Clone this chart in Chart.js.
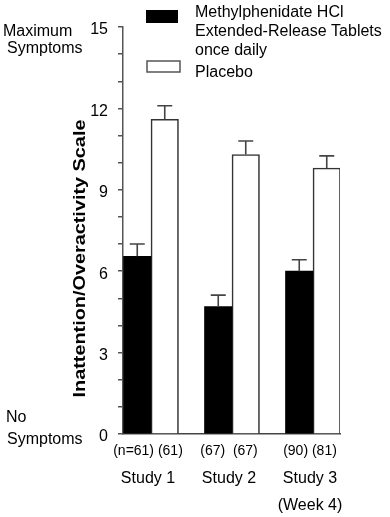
<!DOCTYPE html>
<html>
<head>
<meta charset="utf-8">
<script src="https://cdn.jsdelivr.net/npm/chart.js@4.4.1/dist/chart.umd.min.js"></script>
<style>
  html, body { margin: 0; padding: 0; background: #fff; }
  #wrap { width: 390px; height: 517px; }
</style>
</head>
<body>
<div id="wrap"><canvas id="c" width="390" height="517"></canvas></div>
<script>
// ---- Data ----
const categories = ['Study 1', 'Study 2', 'Study 3'];
const subLabels = ['', '', '(Week 4)'];
const nLabels = ['(n=61) (61)', '(67)  (67)', '(90) (81)'];
const drugValues = [6.55, 4.7, 6.0];
const drugErrors = [0.45, 0.42, 0.42];
const placeboValues = [11.6, 10.3, 9.8];
const placeboErrors = [0.5, 0.5, 0.45];
const yLabeledTicks = [0, 3, 6, 9, 12, 15];
const drugLegend = ['Methylphenidate HCl', 'Extended-Release Tablets', 'once daily'];
const placeboLegend = ['Placebo'];
const yTitle = 'Inattention/Overactivity Scale';
const topNote = ['Maximum', 'Symptoms'];
const bottomNote = ['No', 'Symptoms'];

const FONT = '"Liberation Sans", Arial, Helvetica, sans-serif';

const errorBars = {
  id: 'errorBars',
  afterDatasetsDraw(chart) {
    const ctx = chart.ctx;
    const ys = chart.scales.y;
    ctx.save();
    ctx.strokeStyle = '#444';
    ctx.lineWidth = 1.6;
    chart.data.datasets.forEach((ds, di) => {
      const meta = chart.getDatasetMeta(di);
      meta.data.forEach((el, i) => {
        const v = ds.data[i].y;
        const e = ds.errors[i];
        const yTop = ys.getPixelForValue(v + e);
        ctx.beginPath();
        ctx.moveTo(el.x, el.y);
        ctx.lineTo(el.x, yTop);
        ctx.moveTo(el.x - 7.5, yTop);
        ctx.lineTo(el.x + 7.5, yTop);
        ctx.stroke();
      });
    });
    ctx.restore();
  }
};

const texts = {
  id: 'texts',
  afterDraw(chart) {
    const ctx = chart.ctx;
    const xs = chart.scales.x;
    ctx.save();
    ctx.fillStyle = '#000';
    // x labels
    ctx.textAlign = 'center';
    ctx.textBaseline = 'alphabetic';
    categories.forEach((c, i) => {
      const x = xs.getPixelForValue(i + 1) - 3;
      ctx.font = '14px ' + FONT;
      ctx.fillText(nLabels[i], x, 455);
      ctx.font = '16px ' + FONT;
      ctx.fillText(c, x, 483);
      if (subLabels[i]) ctx.fillText(subLabels[i], x, 510);
    });
    // side notes
    ctx.textAlign = 'left';
    ctx.font = '16px ' + FONT;
    ctx.fillText(topNote[0], 3, 36);
    ctx.fillText(topNote[1], 7, 53);
    ctx.fillText(bottomNote[0], 6, 422);
    ctx.fillText(bottomNote[1], 7, 444);
    // legend
    ctx.fillStyle = '#000';
    ctx.fillRect(146, 10, 32, 13);
    ctx.fillStyle = '#fff';
    ctx.fillRect(147, 61, 33, 11);
    ctx.strokeStyle = '#555';
    ctx.lineWidth = 1.5;
    ctx.strokeRect(147, 61, 33, 11);
    ctx.fillStyle = '#000';
    drugLegend.forEach((t, i) => ctx.fillText(t, 195, 17 + i * 19));
    placeboLegend.forEach((t, i) => ctx.fillText(t, 195, 77 + i * 19));
    // y title (stretched)
    ctx.translate(84.5, 258.5);
    ctx.rotate(-Math.PI / 2);
    ctx.scale(1.24, 1);
    ctx.font = 'bold 16px ' + FONT;
    ctx.textAlign = 'center';
    ctx.fillText(yTitle, 0, 0);
    ctx.restore();
  }
};

new Chart(document.getElementById('c'), {
  type: 'bar',
  data: {
    datasets: [
      {
        label: drugLegend.join(' '),
        data: drugValues.map((v, i) => ({ x: i + 1, y: v })),
        errors: drugErrors,
        backgroundColor: '#000',
        borderWidth: 0,
        barThickness: 27.5
      },
      {
        label: placeboLegend.join(' '),
        data: placeboValues.map((v, i) => ({ x: i + 1, y: v })),
        errors: placeboErrors,
        backgroundColor: '#fff',
        borderColor: '#333',
        borderWidth: { top: 1.6, left: 1.6, right: 1.6, bottom: 0 },
        borderSkipped: 'bottom',
        barThickness: 27.5
      }
    ]
  },
  options: {
    responsive: false,
    animation: false,
    layout: { padding: { top: 27, right: 50, left: 0, bottom: 0 } },
    plugins: { legend: { display: false }, tooltip: { enabled: false } },
    scales: {
      x: {
        type: 'linear',
        min: 1 - 28 / 81,
        max: 3 + 27 / 81,
        offset: false,
        grid: { display: false, offset: false },
        border: { display: true, color: '#444', width: 1.6 },
        ticks: { display: false },
        afterBuildTicks(s) { s.ticks = categories.map((_, i) => ({ value: i + 1 })); },
        afterFit(s) { s.height = 83; }
      },
      y: {
        min: 0,
        max: 15,
        grid: { drawOnChartArea: false, drawTicks: true, tickLength: 5, color: '#555', lineWidth: 1.5 },
        border: { display: true, color: '#555', width: 1.5 },
        ticks: {
          stepSize: 1,
          autoSkip: false,
          padding: 10,
          labelOffset: 3,
          color: '#000',
          font: { family: FONT, size: 16 },
          callback: (v) => (yLabeledTicks.includes(v) ? String(v) : '')
        },
        afterFit(s) { s.width = 123; }
      }
    }
  },
  plugins: [errorBars, texts]
});
</script>
</body>
</html>
